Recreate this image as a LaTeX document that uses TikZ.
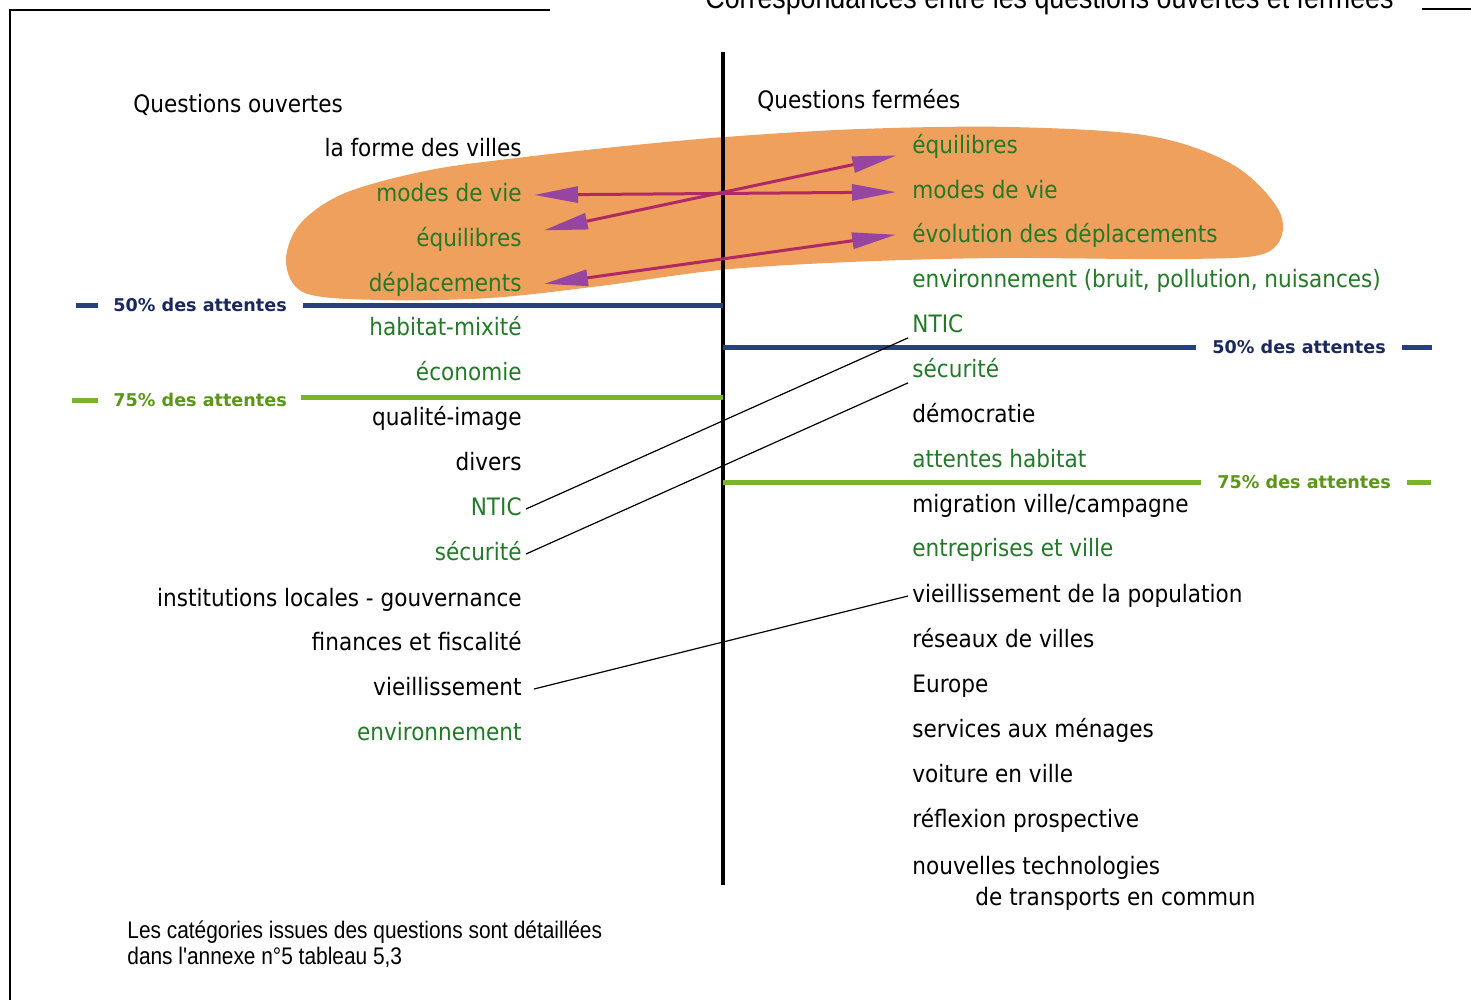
\documentclass[tikz,border=0pt]{standalone}
\usepackage{fontspec}
\setmainfont{DejaVu Sans}[FakeStretch=0.9]
\newfontfamily\notefont{Liberation Sans}[FakeStretch=0.87]
\newfontfamily\pctfont{DejaVu Sans}
\usetikzlibrary{
arrows.meta,
positioning,
}
\definecolor{blobfill}{RGB}{238,160,92}
\definecolor{itemgreen}{RGB}{34,122,40}
\definecolor{blueline}{RGB}{38,64,128}
\definecolor{bluelab}{RGB}{27,40,94}
\definecolor{greenline}{RGB}{122,180,40}
\definecolor{greenlab}{RGB}{92,150,22}
\definecolor{linkline}{RGB}{176,40,100}
\definecolor{linkhead}{RGB}{150,70,160}
\tikzset{
item/.style={font=\fontsize{12}{14}\selectfont, text height=9pt, text depth=2.5pt, inner sep=2pt},
litem/.style={item, anchor=east},
ritem/.style={item, anchor=west},
hit/.style={text=itemgreen},
pct/.style={font=\pctfont\bfseries\fontsize{8.8}{10}\selectfont, inner sep=0pt},
half/.style={draw=blueline, line width=2.5pt},
threeq/.style={draw=greenline, line width=2.5pt},
link/.style={draw=linkline, line width=1.5pt,
  {Triangle[length=22pt,width=8pt,fill=linkhead,color=linkhead]}-{Triangle[length=22pt,width=8pt,fill=linkhead,color=linkhead]},
  shorten <=4pt, shorten >=6pt},
match/.style={draw=black, line width=0.6pt},
}
\begin{document}
\begin{tikzpicture}[x=0.5pt, y=-0.5pt]
\useasboundingbox (0,0) rectangle (1471,1000);
% frame and title
\draw[line width=1.2pt] (550,10) -- (10,10) -- (10,1000);
\draw[line width=1.2pt] (1422,9) -- (1471,9);
\node (title) [anchor=base west, inner sep=0pt, font=\notefont\fontsize{15.4}{17}\selectfont]
  at (705,9) {Correspondances entre les questions ouvertes et fermées};
% orange zone
\fill[blobfill] plot[smooth cycle, tension=0.55] coordinates {
  (286,262) (300,224) (345,193) (430,170) (525,157) (625,146) (725,137)
  (860,129) (1010,127) (1150,136) (1235,166) (1281,215) (1268,252)
  (1190,259) (1000,258) (850,262) (720,270) (600,286) (490,298) (380,300) (305,293)};
% axis
\coordinate (axtop) at (723,52);
\coordinate (axbot) at (723,885);
\draw[line width=2pt] (axtop) -- (axbot);
% open questions
\node (lq) [item, anchor=west] at (129,106) {Questions ouvertes};
\node (lforme) [litem] at (526,150) {la forme des villes};
\node (lmodes) [litem, hit] at (526,195) {modes de vie};
\node (lequi) [litem, hit] at (526,240) {équilibres};
\node (ldepl) [litem, hit] at (526,285) {déplacements};
\node (lhab) [litem, hit] at (526,329) {habitat-mixité};
\node (leco) [litem, hit] at (526,374) {économie};
\node (lqual) [litem] at (526,419) {qualité-image};
\node (ldiv) [litem] at (526,464) {divers};
\node (lntic) [litem, hit] at (526,509) {NTIC};
\node (lsec) [litem, hit] at (526,554) {sécurité};
\node (linst) [litem] at (526,600) {institutions locales - gouvernance};
\node (lfin) [litem] at (526,644) {finances et fiscalité};
\node (lvieil) [litem] at (526,689) {vieillissement};
\node (lenv) [litem, hit] at (526,734) {environnement};
% closed questions
\node (rq) [ritem] at (753,102) {Questions fermées};
\node (requi) [ritem, hit] at (908,147) {équilibres};
\node (rmodes) [ritem, hit] at (908,192) {modes de vie};
\node (revol) [ritem, hit] at (908,236) {évolution des déplacements};
\node (renv) [ritem, hit] at (908,281) {environnement (bruit, pollution, nuisances)};
\node (rntic) [ritem, hit] at (908,326) {NTIC};
\node (rsec) [ritem, hit] at (908,371) {sécurité};
\node (rdemo) [ritem] at (908,416) {démocratie};
\node (rhab) [ritem, hit] at (908,461) {attentes habitat};
\node (rmig) [ritem] at (908,506) {migration ville/campagne};
\node (rentr) [ritem, hit] at (908,550) {entreprises et ville};
\node (rvieil) [ritem] at (908,596) {vieillissement de la population};
\node (rres) [ritem] at (908,641) {réseaux de villes};
\node (reur) [ritem] at (908,686) {Europe};
\node (rserv) [ritem] at (908,731) {services aux ménages};
\node (rvoit) [ritem] at (908,776) {voiture en ville};
\node (rrefl) [ritem] at (908,821) {réflexion prospective};
\node (rnouv) [ritem] at (908,868) {nouvelles technologies};
\node (rnouvb) [ritem] at (971,899) {de transports en commun};
% thresholds
\node (pl50) [pct, text=bluelab, anchor=west] at (113,305) {50\% des attentes};
\node (pl75) [pct, text=greenlab, anchor=west] at (113,400) {75\% des attentes};
\node (pr50) [pct, text=bluelab, anchor=west] at (1212,347) {50\% des attentes};
\node (pr75) [pct, text=greenlab, anchor=west] at (1217,482) {75\% des attentes};
\draw[half] ([xshift=8pt]pl50.east) -- (pl50.east -| axtop);
\draw[half] ([xshift=-7.5pt]pl50.west) -- ([xshift=-18.5pt]pl50.west);
\draw[half] (axtop |- pr50.west) -- ([xshift=-8pt]pr50.west);
\draw[half] ([xshift=8pt]pr50.east) -- ([xshift=23pt]pr50.east);
\draw[threeq] ([xshift=7pt,yshift=1.5pt]pl75.east) -- ([yshift=1.5pt]pl75.east -| axtop);
\draw[threeq] ([xshift=-7.5pt]pl75.west) -- ([xshift=-20.5pt]pl75.west);
\draw[threeq] (axtop |- pr75.west) -- ([xshift=-8pt]pr75.west);
\draw[threeq] ([xshift=8pt]pr75.east) -- ([xshift=20pt]pr75.east);
% correspondences
\draw[link] (lmodes.east) -- (rmodes.west);
\draw[link] ([xshift=5pt,yshift=4pt]lequi.east) -- ([yshift=-3pt]requi.west);
\draw[link] ([xshift=5pt]ldepl.east) -- ([yshift=1.5pt]revol.west);
\draw[match] (lntic.east) -- ([yshift=2pt]rntic.south west);
\draw[match] (lsec.east) -- ([yshift=2pt]rsec.south west);
\draw[match] ([xshift=4pt]lvieil.east) -- (rvieil.west);
% note
\node (note) [anchor=north west, inner sep=0pt, align=left, font=\notefont\fontsize{12}{13}\selectfont]
  at (127,920) {Les catégories issues des questions sont détaillées\\dans l'annexe n°5 tableau 5,3};
\end{tikzpicture}
\end{document}
